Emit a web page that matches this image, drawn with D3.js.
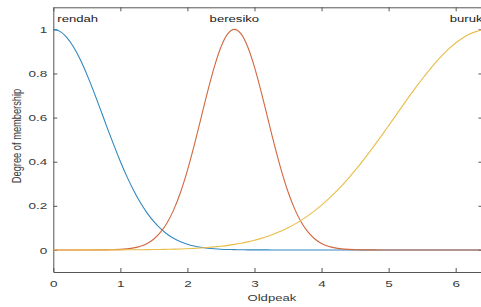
<!DOCTYPE html>
<html>
<head>
<meta charset="utf-8">
<script src="https://cdn.jsdelivr.net/npm/d3@7"></script>
<style>
  html, body { margin: 0; padding: 0; background: #fff; }
  svg { display: block; font-family: "Liberation Sans", Arial, sans-serif; }
</style>
</head>
<body>
<svg id="chart"></svg>
<script>
// values
const oldpeak = [0.0,0.1,0.2,0.3,0.4,0.5,0.6,0.7,0.8,0.9,1.0,1.1,1.2,1.3,1.4,1.5,1.6,1.7,1.8,1.9,
    2.0,2.1,2.2,2.3,2.4,2.5,2.6,2.7,2.8,2.9,3.0,3.1,3.2,3.3,3.4,3.5,3.6,3.7,3.8,3.9,
    4.0,4.1,4.2,4.3,4.4,4.5,4.6,4.7,4.8,4.9,5.0,5.1,5.2,5.3,5.4,5.5,5.6,5.7,5.8,5.9,
    6.0,6.1,6.2,6.3,6.4];
const rendah = [1,0.9909,0.964,0.9211,0.864,0.7959,0.72,0.6393,0.557,0.4773,
    0.401,0.3313,0.2685,0.2137,0.167,0.1282,0.0966,0.0714,0.0519,0.037,
    0.0259,0.0178,0.012,0.008,0.0052,0.0033,0.0021,0.0013,0.0008,0.0005,
    0.0003,0.0002,0.0001,0,0,0,0,0,0,0,
    0,0,0,0,0,0,0,0,0,0,0,0,0,0,0,0,0,0,0,0,0,0,0,0,0];
const beresiko = [0,0,0,0,0,0,0.0001,0.0002,0.0005,0.0012,
    0.0024,0.0048,0.0092,0.0169,0.0296,0.0498,0.0805,0.1246,0.1851,0.2637,
    0.3604,0.4725,0.5942,0.7166,0.8291,0.9201,0.9794,1,0.9794,0.9201,
    0.8291,0.7166,0.5942,0.4725,0.3604,0.2637,0.1851,0.1246,0.0805,0.0498,
    0.0296,0.0169,0.0092,0.0048,0.0024,0.0012,0.0005,0.0002,0.0001,0,
    0,0,0,0,0,0,0,0,0,0,0,0,0,0,0];
const buruk = [0,0,0,0.0001,0.0001,0.0001,0.0001,0.0002,0.0003,0.0003,
    0.0004,0.0006,0.0008,0.001,0.0013,0.0017,0.0022,0.0028,0.0036,0.0045,
    0.0057,0.0072,0.0089,0.0111,0.0137,0.0169,0.0206,0.0251,0.0304,0.0367,
    0.0439,0.0524,0.0622,0.0734,0.0861,0.1007,0.117,0.1353,0.1557,0.1783,
    0.203,0.2301,0.2594,0.2909,0.3247,0.3604,0.3982,0.4376,0.4785,0.5204,
    0.5633,0.6065,0.6498,0.6926,0.7344,0.7748,0.8133,0.8494,0.8825,0.9123,
    0.9382,0.96,0.9773,0.9898,0.9975];

const mfNames = ["rendah", "beresiko", "buruk"];
const mfPeakX = [0, 2.7, 6.4];
const xTicks = [0, 1, 2, 3, 4, 5, 6];
const yTicks = [0, 0.2, 0.4, 0.6, 0.8, 1];

const width = 481, height = 307;
const plotLeft = 53.3, plotRight = 482.5, plotTop = 7.3, plotBottom = 272;
const stretch = 1.38; // the picture is a bit wide, text looks stretched
const colors = ["#2f88c0", "#d2673f", "#e9bc4a"];

let svg = d3.select("#chart").attr("width", width).attr("height", height);

let scaleX = d3.scaleLinear().domain([0, 6.4]).range([plotLeft, plotRight]);
let scaleY = d3.scaleLinear().domain([-0.1, 1.1]).range([plotBottom, plotTop]);

function styleAxis(g) {
    g.selectAll("path").attr("stroke", "#555");
    g.selectAll("line").attr("stroke", "#555");
    g.selectAll("text")
        .attr("fill", "#3a3a3a")
        .attr("font-size", 9.8)
        .attr("font-family", "'Liberation Sans', Arial, sans-serif")
        .attr("transform", `scale(${stretch},1)`);
}

// axes (box on, ticks inward)
svg.append("g")
    .attr("transform", "translate(0," + plotBottom + ")")
    .call(d3.axisBottom(scaleX).tickValues(xTicks).tickSizeInner(-4).tickSizeOuter(0).tickPadding(8).tickFormat(d3.format("d")))
    .call(styleAxis);

svg.append("g")
    .attr("transform", "translate(0," + plotTop + ")")
    .call(d3.axisTop(scaleX).tickValues(xTicks).tickSizeInner(-4).tickSizeOuter(0).tickFormat(""))
    .call(styleAxis);

svg.append("g")
    .attr("transform", "translate(" + plotLeft + ",0)")
    .call(d3.axisLeft(scaleY).tickValues(yTicks).tickSizeInner(-4).tickSizeOuter(0).tickPadding(4.4).tickFormat(d => String(+d.toFixed(1))))
    .call(styleAxis);

svg.append("g")
    .attr("transform", "translate(" + plotRight + ",0)")
    .call(d3.axisRight(scaleY).tickValues(yTicks).tickSizeInner(-4).tickSizeOuter(0).tickFormat(""))
    .call(styleAxis);

// curves
const series = [rendah, beresiko, buruk];
let line = d3.line()
    .x((d, i) => scaleX(oldpeak[i]))
    .y(d => scaleY(d))
    .curve(d3.curveMonotoneX);

svg.append("g")
    .selectAll("path")
    .data(series)
    .join("path")
    .attr("fill", "none")
    .attr("stroke", (d, i) => colors[i])
    .attr("stroke-width", 1.1)
    .attr("d", line);

// mf labels, kept inside the box
svg.append("g")
    .selectAll("text")
    .data(mfNames)
    .join("text")
    .attr("font-size", 9.5)
    .attr("fill", "#1a1a1a")
    .attr("text-anchor", "middle")
    .attr("dy", "0.42em")
    .text(d => d)
    .each(function(d, i) {
        let w = this.getComputedTextLength() * stretch;
        let cx = scaleX(mfPeakX[i]);
        if (cx - w / 2 < plotLeft + 4) cx = plotLeft + 4 + w / 2;
        if (cx + w / 2 > plotRight) cx = plotRight - w / 2;
        d3.select(this).attr("transform", `translate(${cx},${scaleY(1.05)}) scale(${stretch},1)`);
    });

// axis titles
svg.append("text")
    .attr("font-size", 9.5)
    .attr("fill", "#3a3a3a")
    .attr("text-anchor", "middle")
    .attr("transform", `translate(${(plotLeft + plotRight) / 2 + 4},301) scale(${stretch},1)`)
    .text("Oldpeak");

svg.append("text")
    .attr("font-size", 9.3)
    .attr("fill", "#3a3a3a")
    .attr("text-anchor", "middle")
    .attr("transform", `translate(21,136) scale(1.35,1) rotate(-90)`)
    .text("Degree of membership");
</script>
</body>
</html>
